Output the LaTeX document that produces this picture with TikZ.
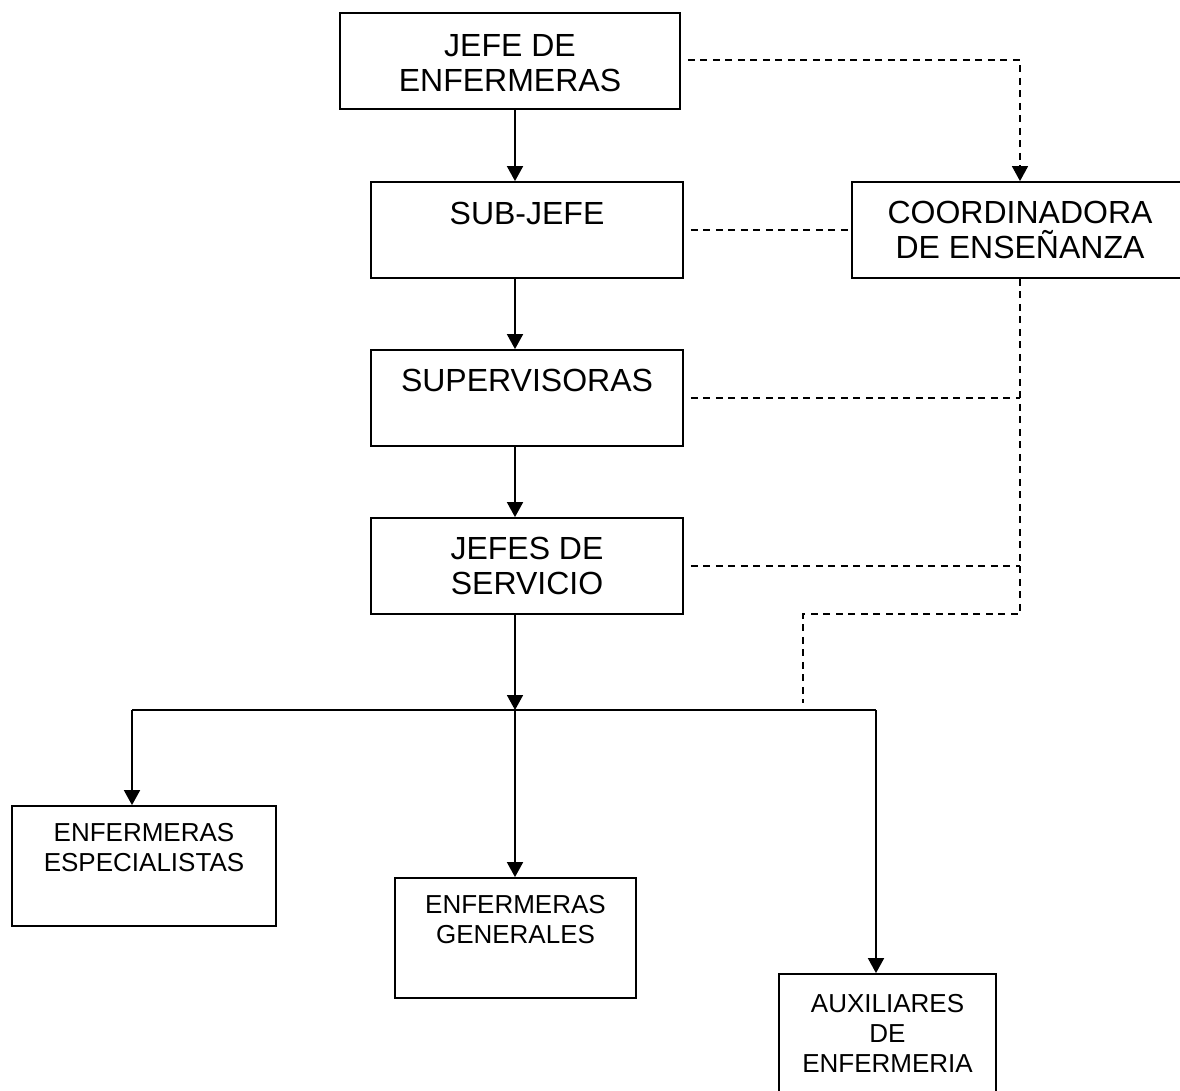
\documentclass[tikz,border=0pt]{standalone}
\usepackage{fontspec}
\setmainfont{Liberation Sans}
\usetikzlibrary{arrows.meta,calc}

\tikzset{
  box/.style={draw, rectangle, line width=1.8pt, inner sep=0pt},
  bigtxt/.style={align=center, inner sep=0pt, font=\fontsize{32}{35}\selectfont},
  smalltxt/.style={align=center, inner sep=0pt, font=\fontsize{26}{30}\selectfont},
  link/.style={line width=1.8pt},
  tip/.style={-{Triangle[length=15pt,width=16pt]}},
  arrowlink/.style={line width=1.8pt, tip},
  dottedlink/.style={line width=1.5pt, dash pattern=on 7pt off 5.5pt},
}

\begin{document}
\begin{tikzpicture}[x=1pt, y=-1pt]
  \useasboundingbox (0,0) rectangle (1180,1090);
  \clip (0,0) rectangle (1180,1090);

  % boxes
  \node[box, minimum width=340pt, minimum height=96pt] (jefe)  at (510,61) {};
  \node[box, minimum width=312pt, minimum height=96pt] (sub)   at (527,230) {};
  \node[box, minimum width=336pt, minimum height=96pt] (coord) at (1020,230) {};
  \node[box, minimum width=312pt, minimum height=96pt] (sup)   at (527,398) {};
  \node[box, minimum width=312pt, minimum height=96pt] (jser)  at (527,566) {};
  \node[box, minimum width=264pt, minimum height=120pt] (esp)  at (144,866) {};
  \node[box, minimum width=241pt, minimum height=120pt] (gen)  at (515.5,938) {};
  \node[box, minimum width=217pt, minimum height=120pt] (aux)  at (887.5,1034) {};

  % labels
  \node[bigtxt] (jefe-t)  at (510,63)    {JEFE DE\\ENFERMERAS};
  \node[bigtxt] (sub-t)   at (527,213)   {SUB-JEFE};
  \node[bigtxt] (coord-t) at (1020,229.5){COORDINADORA\\DE ENSEÑANZA};
  \node[bigtxt] (sup-t)   at (527,380)   {SUPERVISORAS};
  \node[bigtxt] (jser-t)  at (527,565.5) {JEFES DE\\SERVICIO};
  \node[smalltxt] (esp-t) at (144,848)   {ENFERMERAS\\ESPECIALISTAS};
  \node[smalltxt] (gen-t) at (515.5,920) {ENFERMERAS\\GENERALES};
  \node[smalltxt] (aux-t) at (887.5,1033){AUXILIARES\\DE\\ENFERMERIA};

  % helper coordinates
  \coordinate (spine) at (515,0);
  \coordinate (bus)   at (515,710);
  \coordinate (busL)  at (132,710);
  \coordinate (busR)  at (876,710);
  \coordinate (c1)    at (1020,614);
  \coordinate (tap)   at (803,703);

  % line of command
  \draw[arrowlink] (jefe.south -| spine) -- (sub.north -| spine);
  \draw[arrowlink] (sub.south -| spine)  -- (sup.north -| spine);
  \draw[arrowlink] (sup.south -| spine)  -- (jser.north -| spine);
  \draw[arrowlink] (jser.south -| spine) -- (bus);
  \draw[link] (busL) -- (busR);
  \draw[arrowlink] (busL) -- (busL |- esp.north);
  \draw[arrowlink] (bus)  -- (bus |- gen.north);
  \draw[arrowlink] (busR) -- (busR |- aux.north);

  % teaching coordination
  \draw[dottedlink, tip]
    ([xshift=7pt,yshift=1pt]jefe.east) -| (coord.north);
  \draw[dottedlink] ([xshift=7pt]sub.east) -- (coord.west);
  \draw[dottedlink] (coord.south) -- (c1) -- (c1 -| tap) -- (tap);
  \draw[dottedlink] ([xshift=7pt]sup.east) -- (sup.east -| c1);
  \draw[dottedlink] ([xshift=7pt]jser.east) -- (jser.east -| c1);
\end{tikzpicture}
\end{document}
